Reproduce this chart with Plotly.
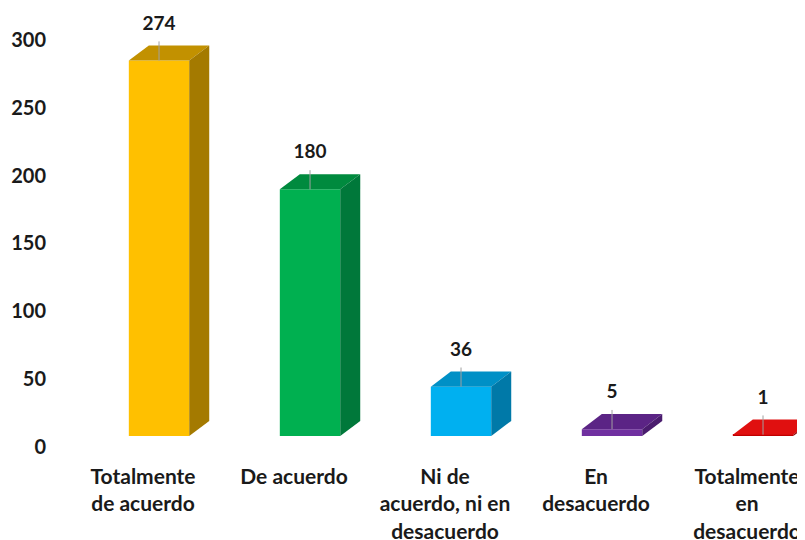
import plotly.graph_objects as go

categories = ["Totalmente<br>de acuerdo", "De acuerdo", "Ni de<br>acuerdo, ni en<br>desacuerdo",
              "En<br>desacuerdo", "Totalmente<br>en<br>desacuerdo"]
values = [274, 180, 36, 5, 1]
y_ticks = [0, 50, 100, 150, 200, 250, 300]

front_colors = ["#FFC000", "#00B050", "#00B0F0", "#7030A0", "#C00000"]
top_colors = ["#C29100", "#008A3E", "#0090C6", "#5B2485", "#E01010"]
side_colors = ["#A47A00", "#00783A", "#0079A8", "#4A1C6E", "#900000"]

# 3D style constants
OFF = 0.106   # front face centre shift from category centre
W = 0.40      # front face width (x units)
DX = 0.1325   # depth shift in x units
DV = 11.0     # depth shift in value units
LABEL_GAP = 26
LEADER = 14

FONT = "Lato"
fig = go.Figure()

n = len(values)
xs = list(range(n))
fig.add_trace(go.Bar(
    x=[i + OFF for i in xs], y=values, width=W, marker=dict(color=front_colors, line=dict(width=0)),
    xaxis="x", yaxis="y2", showlegend=False, hoverinfo="skip"))

for i, v in enumerate(values):
    x0 = i + OFF - W / 2
    x1 = i + OFF + W / 2
    # top face
    fig.add_trace(go.Scatter(
        x=[x0, x1, x1 + DX, x0 + DX, x0], y=[v, v, v + DV, v + DV, v],
        fill="toself", fillcolor=top_colors[i], mode="lines", line=dict(width=0, color=top_colors[i]),
        xaxis="x", yaxis="y2", showlegend=False, hoverinfo="skip"))
    # side face
    fig.add_trace(go.Scatter(
        x=[x1, x1 + DX, x1 + DX, x1, x1], y=[0, DV, v + DV, v, 0],
        fill="toself", fillcolor=side_colors[i], mode="lines", line=dict(width=0, color=side_colors[i]),
        xaxis="x", yaxis="y2", showlegend=False, hoverinfo="skip"))

# leader lines
lx, ly = [], []
for i, v in enumerate(values):
    lx += [i + OFF, i + OFF, None]
    ly += [v, v + LEADER, None]
fig.add_trace(go.Scatter(x=lx, y=ly, mode="lines", line=dict(color="#A0A0A0", width=1),
                         xaxis="x", yaxis="y2", showlegend=False, hoverinfo="skip"))

# data labels
fig.add_trace(go.Scatter(
    x=[i + OFF for i in xs], y=[v + LABEL_GAP for v in values], mode="text",
    text=[str(v) for v in values], textposition="middle center",
    textfont=dict(family=FONT, size=19, color="#1a1a1a", weight="bold"),
    xaxis="x", yaxis="y2", showlegend=False, hoverinfo="skip", cliponaxis=False))

# dummy on y so the tick axis renders
fig.add_trace(go.Scatter(x=[0], y=[0], mode="markers", marker=dict(opacity=0), showlegend=False,
                         hoverinfo="skip"))

fig.update_layout(
    width=805, height=540,
    margin=dict(l=42, r=8, t=2, b=93),
    plot_bgcolor="white", paper_bgcolor="white",
    xaxis=dict(range=[-0.616, 4.384], tickvals=xs, ticktext=categories, showgrid=False,
               zeroline=False, showline=False, ticks="", ticklabelstandoff=7,
               tickfont=dict(family=FONT, size=21, color="#1a1a1a", weight="bold")),
    yaxis=dict(range=[-5.9, 322.1], tickvals=y_ticks, showgrid=False, zeroline=False,
               showline=False, ticks="", ticklabelstandoff=3,
               tickfont=dict(family=FONT, size=20, color="#1a1a1a", weight="bold")),
    yaxis2=dict(range=[-13.87, 310.9], overlaying="y", visible=False),
)

fig.write_html("out.html")
